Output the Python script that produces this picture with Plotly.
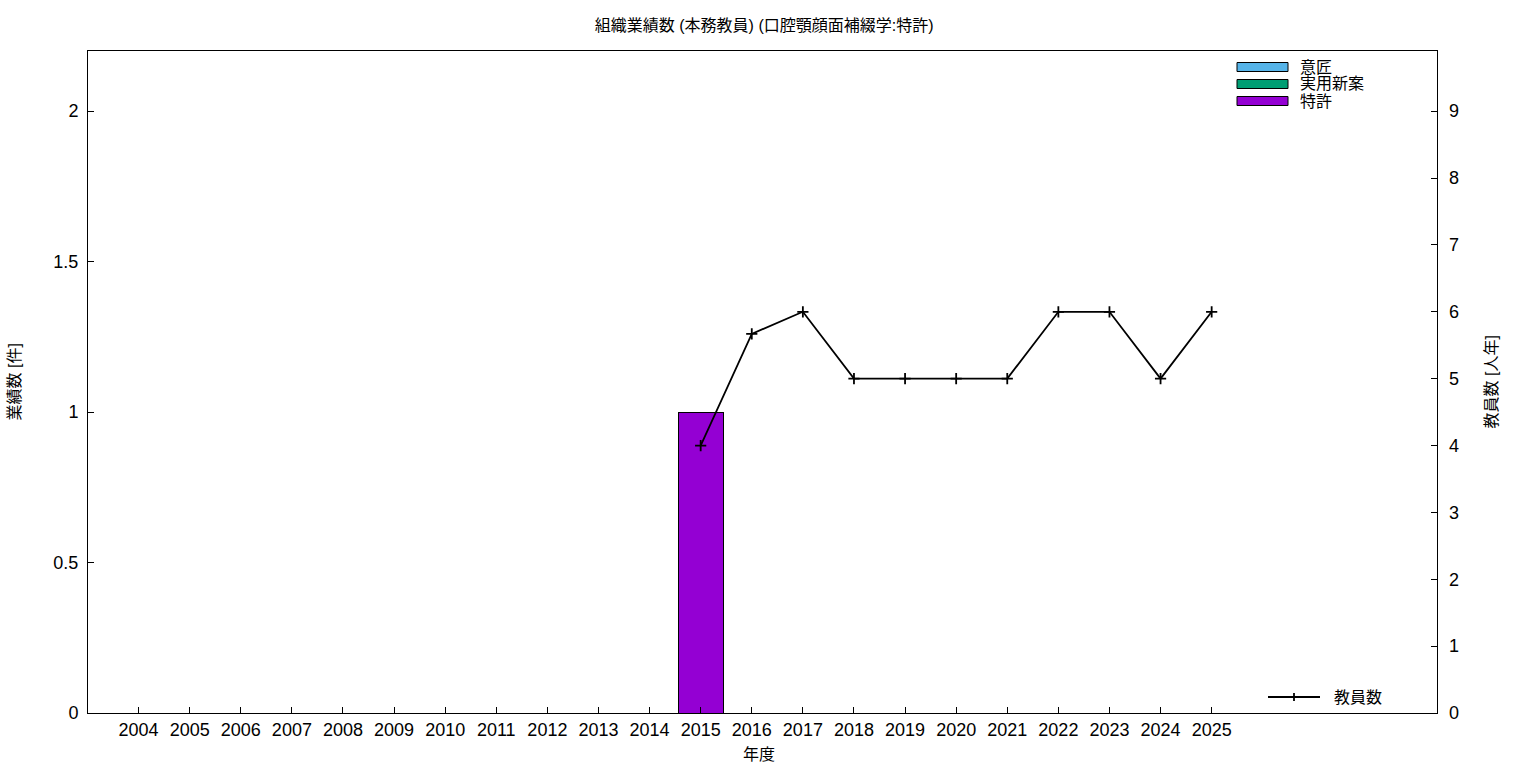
import plotly.graph_objects as go

years = [str(y) for y in range(2004, 2026)]
isho = [0]*22
jitsuyo = [0]*22
tokkyo = [0]*11 + [1] + [0]*10
staff_years = [str(y) for y in range(2015, 2026)]
staff = [4, 5.67, 6, 5, 5, 5, 5, 6, 6, 5, 6]

FONT = "Liberation Sans, Noto Sans CJK JP"
C_ISHO = "#56B4E9"
C_JITSU = "#009E73"
C_TOKKYO = "#9400D3"

fig = go.Figure()
for name, vals, col in [("意匠", isho, C_ISHO), ("実用新案", jitsuyo, C_JITSU), ("特許", tokkyo, C_TOKKYO)]:
    fig.add_trace(go.Bar(x=years, y=vals, name=name, width=0.88,
                         marker=dict(color=col, line=dict(color="black", width=1)),
                         showlegend=False))
fig.add_trace(go.Scatter(x=staff_years, y=staff, yaxis="y2", name="教員数",
                         mode="lines+markers",
                         line=dict(color="black", width=1.8),
                         marker=dict(symbol="cross-thin", size=8, line=dict(color="black", width=1.8)),
                         showlegend=False))

fig.update_layout(
    width=1536, height=768,
    margin=dict(l=88, r=99, t=51, b=55),
    plot_bgcolor="white", paper_bgcolor="white",
    barmode="stack",
    font=dict(family=FONT, color="black", size=16),
    title=dict(text="組織業績数 (本務教員) (口腔顎顔面補綴学:特許)", x=0.4975, xanchor="center",
               y=0.967, yanchor="middle", font=dict(size=16)),
    xaxis=dict(type="category", categoryorder="array", categoryarray=years,
               range=[-0.99, 25.41], showgrid=False, zeroline=False,
               ticks="inside", ticklen=6, tickcolor="black", tickwidth=1,
               showline=True, linecolor="black", linewidth=1, mirror=True,
               tickfont=dict(size=18)),
    yaxis=dict(range=[0, 2.2], tickvals=[0, 0.5, 1, 1.5, 2], ticktext=["0", "0.5", "1", "1.5", "2"],
               showgrid=False, zeroline=False, ticks="inside", ticklen=6, tickcolor="black",
               showline=True, linecolor="black", linewidth=1, mirror=True,
               tickfont=dict(size=18), ticklabelstandoff=5),
    yaxis2=dict(range=[0, 9.9], overlaying="y", side="right", tickvals=list(range(10)),
                showgrid=False, zeroline=False, ticks="inside", ticklen=6, tickcolor="black",
                showline=False, tickfont=dict(size=18), ticklabelstandoff=11),
)

ann = [
    dict(text="年度", x=0.4975, y=-0.0634, xref="paper", yref="paper", showarrow=False,
         font=dict(size=16), xanchor="center", yanchor="middle"),
    dict(text="業績数 [件]", x=-0.0545, y=0.5, xref="paper", yref="paper", showarrow=False,
         font=dict(size=16), textangle=-90, xanchor="center", yanchor="middle"),
    dict(text="教員数 [人年]", x=1.0404, y=0.5, xref="paper", yref="paper", showarrow=False,
         font=dict(size=16), textangle=-90, xanchor="center", yanchor="middle"),
]
shapes = []
px0, pw, pt, ph = 88, 1349, 51, 662
def fx(p): return (p - px0) / pw
def fy(p): return 1 - (p - pt) / ph
for (name, col), cy in zip([("意匠", C_ISHO), ("実用新案", C_JITSU), ("特許", C_TOKKYO)], [67, 84, 101]):
    shapes.append(dict(type="rect", xref="paper", yref="paper", x0=fx(1237), x1=fx(1288),
                       y0=fy(cy + 4.5), y1=fy(cy - 4.5), fillcolor=col, line=dict(color="black", width=1)))
    ann.append(dict(text=name, x=fx(1298), y=fy(cy), xref="paper", yref="paper", showarrow=False,
                    xanchor="left", yanchor="middle", font=dict(size=16)))
shapes.append(dict(type="line", xref="paper", yref="paper", x0=fx(1268), x1=fx(1320),
                   y0=fy(697), y1=fy(697), line=dict(color="black", width=1.8)))
shapes.append(dict(type="line", xref="paper", yref="paper", x0=fx(1294), x1=fx(1294),
                   y0=fy(693), y1=fy(701), line=dict(color="black", width=1.8)))
ann.append(dict(text="教員数", x=fx(1332), y=fy(697), xref="paper", yref="paper", showarrow=False,
                xanchor="left", yanchor="middle", font=dict(size=16)))
fig.update_layout(annotations=ann, shapes=shapes)

fig.write_html("out.html", config={"displayModeBar": False},
               post_script="document.body.style.margin='0';document.body.style.padding='0';")
